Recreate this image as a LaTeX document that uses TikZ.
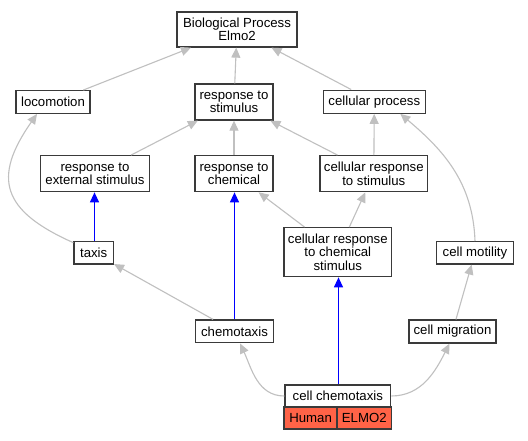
\documentclass[tikz,border=0pt]{standalone}
\usepackage{fontspec}
\setmainfont{Liberation Sans}
\usetikzlibrary{arrows.meta}
\definecolor{edgegray}{HTML}{C0C0C0}
\definecolor{boxline}{HTML}{3A3A3A}
\definecolor{tomatofill}{HTML}{FF6347}
\begin{document}
\begin{tikzpicture}[x=1pt,y=1pt,
  box/.style={draw=boxline, line width=1.3pt, fill=white, inner sep=0pt, align=center,
    font=\fontsize{13.2}{13.2}\selectfont},
  orgbox/.style={box, fill=tomatofill},
  isa/.style={color=edgegray, line width=1.1pt, -{Triangle[length=10pt,width=9pt]}},
  blueedge/.style={color=blue, line width=1.2pt, -{Triangle[length=10pt,width=9pt]}},
]
\useasboundingbox (0,0) rectangle (528,440);
\fill[white] (0,0) rectangle (528,440);

\node[box, minimum width=120pt, minimum height=35pt] (bp) at (237,410.5) {Biological Process\\Elmo2};
\node[box, minimum width=74pt, minimum height=22.6pt] (loc) at (53,338) {locomotion};
\node[box, minimum width=78pt, minimum height=36pt] (rs) at (234,338) {response to\\stimulus};
\node[box, minimum width=102pt, minimum height=23pt] (cp) at (374.3,338.3) {cellular process};
\node[box, minimum width=109.5pt, minimum height=36pt] (res) at (95,266.3) {response to\\external stimulus};
\node[box, minimum width=78pt, minimum height=36pt] (rc) at (234,266.3) {response to\\chemical};
\node[box, minimum width=107.7pt, minimum height=36pt] (crs) at (373.8,266.3) {cellular response\\to stimulus};
\node[box, minimum width=39.3pt, minimum height=22.7pt] (taxis) at (93.7,187.3) {taxis};
\node[box, minimum width=107.7pt, minimum height=49pt] (crcs) at (337.8,187.8) {cellular response\\to chemical\\stimulus};
\node[box, minimum width=76.6pt, minimum height=22.3pt] (cm) at (475,187.2) {cell motility};
\node[box, minimum width=77.6pt, minimum height=22.7pt] (chemo) at (234.5,108.6) {chemotaxis};
\node[box, minimum width=87pt, minimum height=23pt] (cmig) at (452.5,108.5) {cell migration};
\node[box, minimum width=105.7pt, minimum height=22pt] (cc) at (337.8,44) {cell chemotaxis};
\node[orgbox, minimum width=53pt, minimum height=22pt] (human) at (310.6,22) {Human};
\node[orgbox, minimum width=53.7pt, minimum height=22pt] (elmo) at (364.3,22) {ELMO2};

% gray is_a edges
\draw[isa] (loc) -- (bp);
\draw[isa] (rs) -- (bp);
\draw[isa] (cp) -- (bp);
\draw[isa] (res) -- (rs);
\draw[isa] (rc) -- (rs);
\draw[isa] (crs) -- (rs);
\draw[isa] (crs) -- (cp);
\draw[isa] (crcs) -- (rc);
\draw[isa] (crcs) -- (crs);
\draw[isa] (chemo) -- (taxis);
\draw[isa] (cmig) -- (cm);
\draw[isa] ([yshift=-2pt]taxis.north west) to[out=156, in=235, looseness=1.5] ([xshift=-16pt]loc.south);
\draw[isa] (cm.north) to[out=92, in=-40] ([xshift=26pt]cp.south);
\draw[isa] (cc.west) to[out=180, in=-65] ([xshift=5.5pt]chemo.south);
\draw[isa] (cc.east) to[out=0, in=-117] ([xshift=-3pt]cmig.south);

% blue edges
\draw[blueedge] ([xshift=0.8pt]taxis.north) -- ([xshift=0.8pt]taxis.north |- res.south);
\draw[blueedge] (chemo.north) -- (chemo.north |- rc.south);
\draw[blueedge] ([xshift=0.7pt]cc.north) -- ([xshift=0.7pt]cc.north |- crcs.south);
\end{tikzpicture}
\end{document}
